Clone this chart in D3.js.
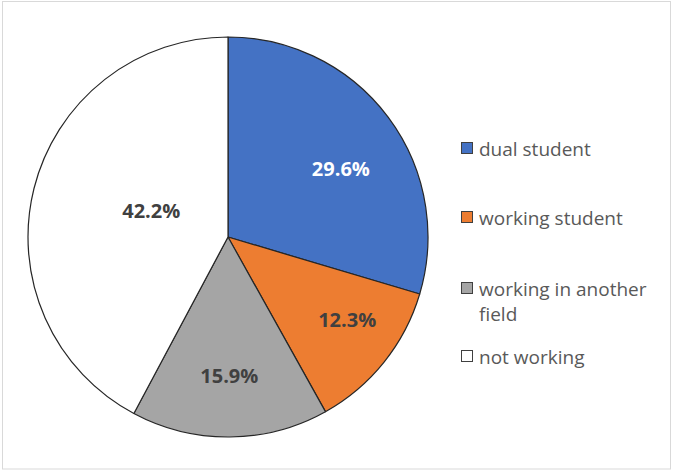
<!DOCTYPE html>
<html>
<head>
<meta charset="utf-8">
<script src="https://cdn.jsdelivr.net/npm/d3@7"></script>
<style>
  html, body { margin: 0; padding: 0; background: #fff; }
  svg { display: block; }
</style>
</head>
<body>
<svg id="chart" width="673" height="471"></svg>
<script>
const categories = ["dual student", "working student", "working in another field", "not working"];
const values = [29.6, 12.3, 15.9, 42.2];
const colors = ["#4472C4", "#ED7D31", "#A5A5A5", "#FFFFFF"];
const labelColors = ["#FFFFFF", "#404040", "#404040", "#404040"];
// label placement style: [radius ratio, angle nudge in degrees]
const labelPlacement = [[0.66, 5.5], [0.725, -4], [0.695, 0], [0.405, 4.5]];

const svg = d3.select("#chart");
const font = "'Open Sans', 'Noto Sans', sans-serif";

// outer frame
svg.append("rect")
  .attr("x", 2.5).attr("y", 1.5)
  .attr("width", 668).attr("height", 467.5)
  .attr("fill", "#fff").attr("stroke", "#d9d9d9").attr("stroke-width", 1);

const cx = 228, cy = 237, R = 200;
const pie = d3.pie().sort(null).value(d => d)(values);
const arc = d3.arc().innerRadius(0).outerRadius(R);

const g = svg.append("g").attr("transform", `translate(${cx},${cy})`);
g.selectAll("path.slice").data(pie).join("path")
  .attr("class", "slice")
  .attr("d", arc)
  .attr("fill", (d, i) => colors[i])
  .attr("stroke", "#262626")
  .attr("stroke-width", 1.2)
  .attr("stroke-linejoin", "round");

function labelPos(d, i) {
  const a = (d.startAngle + d.endAngle) / 2 + labelPlacement[i][1] * Math.PI / 180;
  const r = R * labelPlacement[i][0];
  return [Math.sin(a) * r, -Math.cos(a) * r];
}

g.selectAll("text.lbl").data(pie).join("text")
  .attr("class", "lbl")
  .attr("x", (d, i) => labelPos(d, i)[0])
  .attr("y", (d, i) => labelPos(d, i)[1])
  .attr("dy", "0.36em")
  .attr("text-anchor", "middle")
  .attr("font-family", font)
  .attr("font-weight", "bold")
  .attr("font-size", "20px")
  .attr("fill", (d, i) => labelColors[i])
  .text((d, i) => values[i].toFixed(1) + "%");

// legend
const legendBaselines = [156, 225, 296, 364];
const legend = svg.append("g");
categories.forEach((c, i) => {
  const y = legendBaselines[i];
  legend.append("rect")
    .attr("x", 461.5).attr("y", y - 13.5)
    .attr("width", 11).attr("height", 11)
    .attr("fill", colors[i])
    .attr("stroke", "#404040").attr("stroke-width", 1);
  const t = legend.append("text")
    .attr("x", 479).attr("y", y)
    .attr("font-family", font)
    .attr("font-size", "19px")
    .attr("fill", "#595959");
  if (c === "working in another field") {
    t.append("tspan").attr("x", 479).attr("y", y).text("working in another");
    t.append("tspan").attr("x", 479).attr("y", y + 25).text("field");
  } else {
    t.text(c);
  }
});
</script>
</body>
</html>
